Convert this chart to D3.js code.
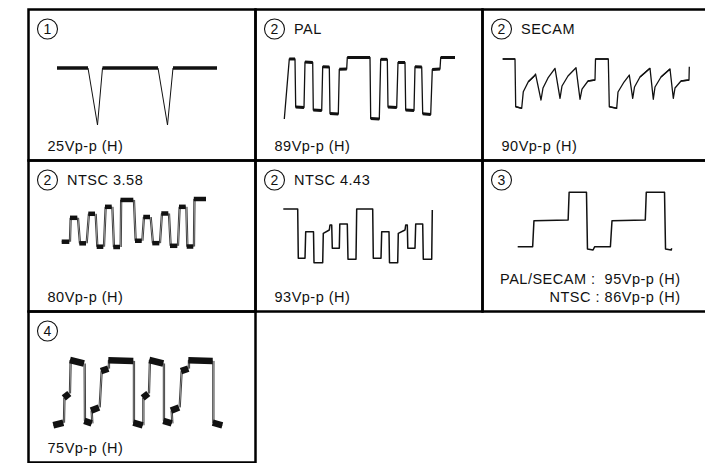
<!DOCTYPE html>
<html>
<head>
<meta charset="utf-8">
<script src="https://cdn.jsdelivr.net/npm/d3@7"></script>
<style>
  body { margin: 0; background: #fff; }
  svg text { font-family: "Liberation Sans", Arial, sans-serif; fill: #111; white-space: pre; }
</style>
</head>
<body>
<svg width="705" height="463"></svg>
<script>
// waveform panels

// labels
var panelNumbers = ['1', '2', '2', '2', '2', '3', '4'];
var panelTitles = ['', 'PAL', 'SECAM', 'NTSC 3.58', 'NTSC 4.43', '', ''];
var panelNotes = [
	['25Vp-p (H)'],
	['89Vp-p (H)'],
	['90Vp-p (H)'],
	['80Vp-p (H)'],
	['93Vp-p (H)'],
	['PAL/SECAM :  95Vp-p (H)', 'NTSC : 86Vp-p (H)'],
	['75Vp-p (H)']
];

// waveforms: time (arbitrary units) and level (% of p-p)
var syncT = [0, 31, 40.5, 45.5, 101, 110.5, 116, 160];
var syncV = [100, 100, 0, 100, 100, 0, 100, 100];

var palT = [0, 5, 10.7, 11.4, 19.7, 20.7, 28.4, 29, 37.4, 38.4, 45, 45.7, 54, 55, 62.4, 63, 85.7,
	86.4, 95, 96.4, 103, 103.7, 112.4, 113.7, 120.7, 121.4, 129.7, 130.7, 137.4, 138.4, 146.4, 148, 155.7, 156.4, 170.7];
var palV = [0, 97.6, 97.6, 19.5, 18.7, 92.7, 91.9, 14.6, 13.8, 85, 84.6, 8.9, 8.1, 80.8, 81.3, 100, 100,
	1, 0, 97, 97, 19.5, 18.7, 91.9, 91.9, 14.6, 13.8, 85, 84.6, 8.6, 7.3, 80.5, 81.3, 100, 100];

var secamT = [0, 12.3, 13, 19, 20.6, 25.6, 31.6, 32.8, 38.3, 40.3, 45.3, 52.3, 57.3, 59.3, 65.3, 73.3, 77.3, 79.3, 85.3, 92.3, 92.8,
	105.6, 106.6, 114, 115.3, 121.3, 126.6, 130, 131.8, 137.3, 147.3, 150.6, 152.3, 158.3, 167.3, 170.6, 172.3, 178.3, 186.3, 186.6];
var secamV = [100, 100, 3.2, 0, 33.7, 54, 65.5, 69.6, 16.8, 41.2, 61.5, 81.1, 20.3, 45.2, 65.5, 82.4, 18.3, 39.1, 55.4, 57.4, 100,
	100, 3.2, 0, 33.1, 53.3, 67.5, 20.3, 43.2, 63.5, 81.1, 18.3, 43.2, 63.5, 79.7, 20.3, 41.2, 55.4, 57.4, 84.4];

var ntsc358T = [0, 7.6, 8.3, 15.6, 17.6, 24.3, 26.6, 33.3, 35, 41.6, 43.3, 50, 51.6, 58.3, 58.8, 71.6,
	73.3, 80, 81.6, 88.3, 90.6, 97.6, 99.6, 106.6, 108.3, 115.6, 117.3, 124, 125, 131.6, 132.1, 144.3];
var ntsc358V = [11, 11, 60.8, 60.8, 7.7, 7.7, 69.2, 69.2, 0.6, 0.6, 83.7, 83.7, 0, 0, 98, 98,
	13, 13, 62.5, 62.5, 8, 8, 69.8, 69.8, 2.5, 2.5, 83.7, 83.7, 1, 1, 100, 100];

var ntsc443T = [0, 14.4, 15, 21.7, 22.4, 30.2, 30.7, 39.4, 40, 46, 46.7, 48.4, 49, 56, 56.5, 64, 64.7, 72.7, 73.4,
	89.4, 90, 97.7, 98.4, 105.7, 106.2, 114.4, 115, 121.7, 122.4, 124, 124.5, 131.7, 132.4, 139.4, 140, 148.4, 149];
var ntsc443V = [100, 100, 8.2, 8.2, 57.7, 57.7, 0, 0, 54.7, 60.9, 70.2, 70.2, 26.8, 26.8, 72.1, 72.1, 6.3, 6.3, 100,
	100, 8.2, 8.2, 57.7, 57.7, 0, 0, 54.7, 60.9, 70.2, 70.2, 26.8, 26.8, 72.1, 72.1, 6.3, 6.3, 98];

var barsT = [0, 15, 16.3, 50.6, 51.6, 69, 70, 75.6, 77.3, 93, 94.6, 128, 129, 147.3, 148.3, 154, 154.5];
var barsV = [5.7, 5.7, 50.8, 52, 100, 100, 1.7, 0, 5.7, 5.7, 50.8, 52, 100, 100, 1.7, 0, 3];

var stairT = [0, 10, 10.5, 16, 16.7, 30.7, 31, 38.4, 37.7, 45.7, 47.7, 55, 55, 80, 80, 89.4,
	89.4, 95, 96, 110, 110, 118.4, 117.7, 125.7, 127.7, 135, 135, 159.4, 159.4, 169];
var stairV = [-2, 2, 41, 48, 100.5, 95, 5, 1, 21, 26, 83, 87, 100, 99, 2, -2,
	41, 48, 100.5, 95, 5, 1, 21, 26, 83, 87, 100, 99, 2, -2];

var waves = [
	[syncT, syncV], [palT, palV], [secamT, secamV],
	[ntsc358T, ntsc358V], [ntsc443T, ntsc443V], [barsT, barsV], [stairT, stairV]
];

// layout of the grid
var colX = [28.5, 255.5, 482.5, 709.5];
var rowY = [9.5, 160.5, 311.5, 462.5];

// where each waveform sits inside its cell, and how it is drawn
var plots = [
	{ col: 0, row: 0, xr: [28.5, 188.5], yr: [115.5, 58.5], flat: 3.5, thin: 1, gap: 0 },
	{ col: 1, row: 0, xr: [28.8, 199.5], yr: [109.5, 48], flat: 3, thin: 1.3, gap: 0 },
	{ col: 2, row: 0, xr: [20.2, 206.8], yr: [98.8, 49.5], flat: 1.4, thin: 1.3, gap: 0 },
	{ col: 0, row: 1, xr: [33.2, 177.5], yr: [86.5, 38.5], flat: 4.5, thin: 0.8, gap: 1.3 },
	{ col: 1, row: 1, xr: [27.8, 176.8], yr: [102.2, 48.5], flat: 1.5, thin: 1.5, gap: 0 },
	{ col: 2, row: 1, xr: [35.2, 189.2], yr: [89.5, 31.8], flat: 1.5, thin: 1.5, gap: 0 },
	{ col: 0, row: 2, xr: [24.8, 193.8], yr: [112.5, 48.8], flat: 6.5, thin: 0.8, gap: 1.3 }
];

var svg = d3.select('svg');

// cells
plots.forEach(function(p) {
	svg.append('rect')
		.attr('x', colX[p.col])
		.attr('y', rowY[p.row])
		.attr('width', colX[p.col + 1] - colX[p.col])
		.attr('height', rowY[p.row + 1] - rowY[p.row])
		.attr('fill', 'none')
		.attr('stroke', '#000')
		.attr('stroke-width', 2.5);
});

plots.forEach(function(p, i) {
	var cx = colX[p.col],
		cy = rowY[p.row];
	var g = svg.append('g').attr('transform', 'translate(' + cx + ',' + cy + ')');

	// circled number
	g.append('circle')
		.attr('cx', 19)
		.attr('cy', 19.5)
		.attr('r', 10)
		.attr('fill', 'none')
		.attr('stroke', '#111')
		.attr('stroke-width', 1.1);
	g.append('text')
		.attr('x', 19)
		.attr('y', 24.5)
		.attr('text-anchor', 'middle')
		.style('font-size', '14px')
		.text(panelNumbers[i]);

	if (panelTitles[i]) {
		g.append('text')
			.attr('x', 38.5)
			.attr('y', 24.5)
			.style('font-size', '14.5px')
			.style('letter-spacing', '0.5px')
			.text(panelTitles[i]);
	}

	// notes
	var notes = panelNotes[i];
	if (notes.length === 1) {
		g.append('text')
			.attr('x', 19)
			.attr('y', 141)
			.style('font-size', '14.5px')
			.style('letter-spacing', '0.5px')
			.text(notes[0]);
	} else {
		notes.forEach(function(n, k) {
			g.append('text')
				.attr('x', 198)
				.attr('y', 123.5 + k * 18.3)
				.attr('text-anchor', 'end')
				.style('font-size', '14.5px')
				.style('letter-spacing', '0.5px')
				.text(n);
		});
	}

	// waveform
	var t = waves[i][0],
		v = waves[i][1];
	var x = d3.scaleLinear().domain([0, d3.max(t)]).range(p.xr);
	var y = d3.scaleLinear().domain([0, 100]).range(p.yr);
	var pts = t.map(function(d, k) {
		return [x(d), y(v[k])];
	});

	g.append('path')
		.attr('d', d3.line()(pts))
		.attr('fill', 'none')
		.attr('stroke', '#111')
		.attr('stroke-width', p.thin)
		.attr('stroke-linejoin', 'round');

	for (var k = 0; k < pts.length - 1; k++) {
		var a = pts[k],
			b = pts[k + 1];
		var flat = Math.abs(b[1] - a[1]) < Math.abs(b[0] - a[0]);
		if (flat && p.flat > p.thin) {
			g.append('line')
				.attr('x1', a[0]).attr('y1', a[1])
				.attr('x2', b[0]).attr('y2', b[1])
				.attr('stroke', '#111')
				.attr('stroke-width', p.flat);
		} else if (!flat && p.gap) {
			// chroma edges show as a double line
			g.append('line')
				.attr('x1', a[0] + p.gap).attr('y1', a[1])
				.attr('x2', b[0] + p.gap).attr('y2', b[1])
				.attr('stroke', '#111')
				.attr('stroke-width', p.thin);
		}
	}
});
</script>
</body>
</html>
